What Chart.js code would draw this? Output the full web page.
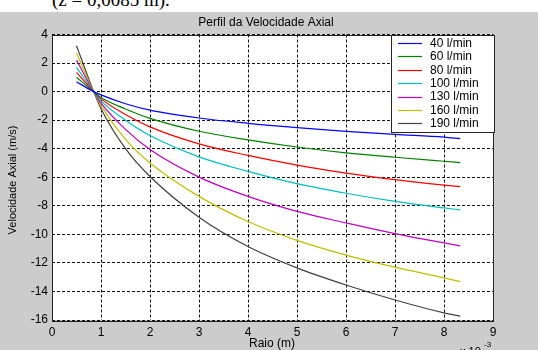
<!DOCTYPE html>
<html>
<head>
<meta charset="utf-8">
<script src="https://cdn.jsdelivr.net/npm/chart.js@4/dist/chart.umd.min.js"></script>
<style>
  html, body { margin: 0; padding: 0; background: #fff; width: 538px; height: 350px; overflow: hidden; }
  #cap { position: absolute; left: 52px; top: -11px; font: 19px "Liberation Serif", "Times New Roman", serif; color: #000; white-space: pre; }
  #wrap { position: absolute; left: 0; top: 12px; width: 538px; height: 338px; background: #cccccc; }
  canvas { display: block; }
</style>
</head>
<body>
<div id="cap">(z = 0,0085 m).</div>
<div id="wrap"><canvas id="c" width="538" height="338"></canvas></div>
<script>
// Radius samples (x 10^-3 m)
const raio = [0.5, 0.85, 1, 1.5, 2, 3, 4, 5, 6, 7, 8, 8.33];

// Axial velocity (m/s) for each flow rate
const v40  = [0.69, 0, -0.23, -0.85, -1.30, -1.85, -2.22, -2.52, -2.78, -3.00, -3.19, -3.30];
const v60  = [1.00, 0, -0.42, -1.22, -1.88, -2.78, -3.38, -3.88, -4.29, -4.60, -4.88, -4.97];
const v80  = [1.35, 0, -0.51, -1.60, -2.47, -3.66, -4.47, -5.15, -5.71, -6.17, -6.55, -6.66];
const v100 = [1.70, 0, -0.65, -2.00, -3.08, -4.57, -5.59, -6.45, -7.12, -7.69, -8.15, -8.29];
const v130 = [2.21, 0, -0.81, -2.65, -4.06, -5.99, -7.34, -8.39, -9.20, -9.95, -10.60, -10.81];
const v160 = [2.68, 0, -0.98, -3.35, -5.00, -7.34, -9.10, -10.42, -11.45, -12.30, -13.05, -13.31];
const v190 = [3.21, 0, -1.20, -4.00, -5.95, -8.80, -10.85, -12.35, -13.55, -14.60, -15.50, -15.73];

const rotulos = ['40 l/min', '60 l/min', '80 l/min', '100 l/min', '130 l/min', '160 l/min', '190 l/min'];
const series = [v40, v60, v80, v100, v130, v160, v190];
const cores = ['#0000ff', '#008000', '#ff0000', '#00bfbf', '#bf00bf', '#bfbf00', '#404040'];

const xTicks = [0, 1, 2, 3, 4, 5, 6, 7, 8, 9];
const yTicks = [-16, -14, -12, -10, -8, -6, -4, -2, 0, 2, 4];

const FONT = '"Liberation Sans", Arial, sans-serif';

const datasets = series.map((vals, i) => ({
  label: rotulos[i],
  data: raio.map((r, k) => ({ x: r, y: vals[k] })),
  borderColor: cores[i],
  backgroundColor: cores[i],
  borderWidth: 1.2,
  pointRadius: 0,
  cubicInterpolationMode: 'monotone',
  fill: false
}));

const decor = {
  id: 'decor',
  beforeDraw(chart) {
    const { ctx, chartArea: a } = chart;
    ctx.save();
    ctx.fillStyle = '#ffffff';
    ctx.fillRect(a.left, a.top, a.right - a.left, a.bottom - a.top);
    ctx.restore();
  },
  afterDraw(chart) {
    const { ctx, chartArea: a } = chart;
    ctx.save();
    // axes frame
    ctx.strokeStyle = '#222';
    ctx.lineWidth = 1;
    ctx.setLineDash([]);
    ctx.strokeRect(Math.round(a.left) + 0.5, Math.round(a.top) + 0.5,
                   Math.round(a.right - a.left), Math.round(a.bottom - a.top));

    ctx.fillStyle = '#000';
    // title
    ctx.font = '12px ' + FONT;
    ctx.textAlign = 'center';
    ctx.textBaseline = 'middle';
    ctx.fillText('Perfil da Velocidade Axial', 266, 10.5);

    // x axis title
    ctx.fillText('Raio (m)', 272, 332);

    // exponent note
    ctx.textAlign = 'left';
    ctx.textBaseline = 'alphabetic';
    ctx.font = '11px ' + FONT;
    ctx.fillText('x 10', 460, 343);
    ctx.font = '8px ' + FONT;
    ctx.fillText('-3', 484, 335);

    // y axis title
    ctx.save();
    ctx.translate(13, 168);
    ctx.rotate(-Math.PI / 2);
    ctx.font = '11px ' + FONT;
    ctx.textAlign = 'center';
    ctx.textBaseline = 'middle';
    ctx.fillText('Velocidade Axial (m/s)', 0, 0);
    ctx.restore();

    // legend box
    const bx = 391, by = 23, bw = 103, bh = 97;
    ctx.fillStyle = '#ffffff';
    ctx.fillRect(bx, by, bw, bh);
    ctx.strokeStyle = '#222';
    ctx.lineWidth = 1;
    ctx.strokeRect(bx + 0.5, by + 0.5, bw, bh);
    ctx.font = '12px ' + FONT;
    ctx.textAlign = 'left';
    ctx.textBaseline = 'middle';
    chart.data.datasets.forEach((ds, i) => {
      const yy = 31 + i * 13.4;
      ctx.strokeStyle = ds.borderColor;
      ctx.lineWidth = 1.2;
      ctx.beginPath();
      ctx.moveTo(398, Math.round(yy) + 0.5);
      ctx.lineTo(422, Math.round(yy) + 0.5);
      ctx.stroke();
      ctx.fillStyle = '#000';
      ctx.fillText(ds.label, 430, yy + 0.5);
    });
    ctx.restore();
  }
};

new Chart(document.getElementById('c'), {
  type: 'line',
  data: { datasets },
  options: {
    responsive: false,
    animation: false,
    layout: { padding: { left: 0, right: 45, top: 22.5, bottom: 0 } },
    plugins: { legend: { display: false }, title: { display: false }, tooltip: { enabled: false } },
    scales: {
      x: {
        type: 'linear',
        min: 0, max: 9,
        afterBuildTicks(scale) { scale.ticks = xTicks.map(v => ({ value: v })); },
        afterFit(scale) { scale.height = 30; },
        ticks: { color: '#000', font: { family: FONT, size: 12 }, padding: 5, maxRotation: 0 },
        grid: { color: '#111', lineWidth: 1, drawTicks: false },
        border: { display: false, dash: [3, 2] }
      },
      y: {
        type: 'linear',
        min: -16, max: 4,
        afterBuildTicks(scale) { scale.ticks = yTicks.map(v => ({ value: v })); },
        afterFit(scale) { scale.width = 52; },
        ticks: { color: '#000', font: { family: FONT, size: 12 }, padding: 4 },
        grid: { color: '#111', lineWidth: 1, drawTicks: false },
        border: { display: false, dash: [3, 2] }
      }
    }
  },
  plugins: [decor]
});
</script>
</body>
</html>
